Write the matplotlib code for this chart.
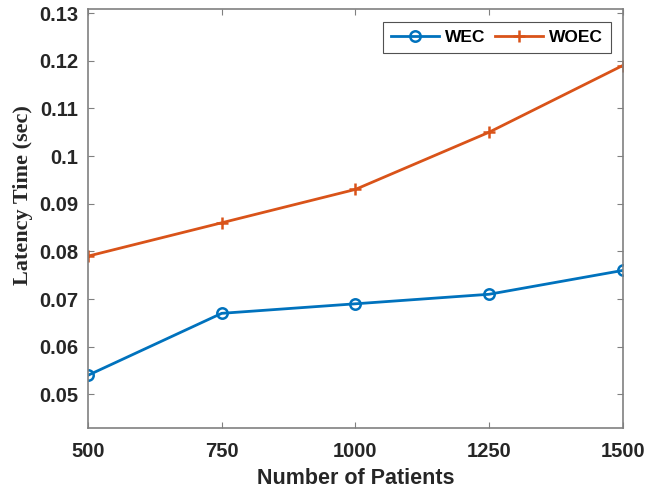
import matplotlib.pyplot as plt

# data
patients = [500, 750, 1000, 1250, 1500]
wec = [0.054, 0.067, 0.069, 0.071, 0.076]
woec = [0.079, 0.086, 0.093, 0.105, 0.119]
xticks = [500, 750, 1000, 1250, 1500]
yticks = [0.05, 0.06, 0.07, 0.08, 0.09, 0.1, 0.11, 0.12, 0.13]
ytick_labels = ['0.05', '0.06', '0.07', '0.08', '0.09', '0.1', '0.11', '0.12', '0.13']

blue = '#0072BD'
orange = '#D95319'
sans = 'Liberation Sans'

fig = plt.figure(figsize=(6.6, 4.91), dpi=100)
ax = fig.add_axes([88/660, 1 - 427.7/491, (622.7 - 88)/660, (427.7 - 9.3)/491])

ax.plot(patients, wec, '-o', color=blue, lw=2, ms=7.5, mfc='none', mew=1.8, label='WEC')
ax.plot(patients, woec, '-+', color=orange, lw=2, ms=9, mew=1.8, label='WOEC')

ax.set_xlim(500, 1500)
ax.set_ylim(0.043, 0.1308)
ax.set_xticks(xticks)
ax.set_xticklabels([str(v) for v in xticks])
ax.set_yticks(yticks)
ax.set_yticklabels(ytick_labels)

for s in ax.spines.values():
    s.set_color('#808080')
    s.set_linewidth(1.2)
ax.tick_params(direction='in', top=True, right=True, length=4, color='#808080',
               labelsize=14.5, labelcolor='#262626')
ax.tick_params(axis='x', pad=10)
ax.tick_params(axis='y', pad=7)
for lab in ax.get_xticklabels() + ax.get_yticklabels():
    lab.set_fontweight('bold')
    lab.set_family(sans)

ax.set_xlabel('Number of Patients', fontsize=15.5, fontweight='bold', family=sans,
              color='#262626', labelpad=5)
ax.set_ylabel('Latency Time (sec)', fontsize=16, fontweight='bold', family='Liberation Serif',
              color='#262626')
# label sits a little above the axes centre in the reference
ax.yaxis.set_label_coords(-0.103, 0.556)

leg = ax.legend(loc='upper right', ncol=2, fancybox=False, frameon=True,
                prop={'weight': 'bold', 'size': 12.5, 'family': sans}, handlelength=2.75,
                columnspacing=0.6, handletextpad=0.35, borderpad=0.45, borderaxespad=0,
                bbox_to_anchor=(0.978, 0.97))
leg.get_frame().set_edgecolor('#262626')
leg.get_frame().set_linewidth(0.8)

fig.savefig('out.png', dpi=100)
